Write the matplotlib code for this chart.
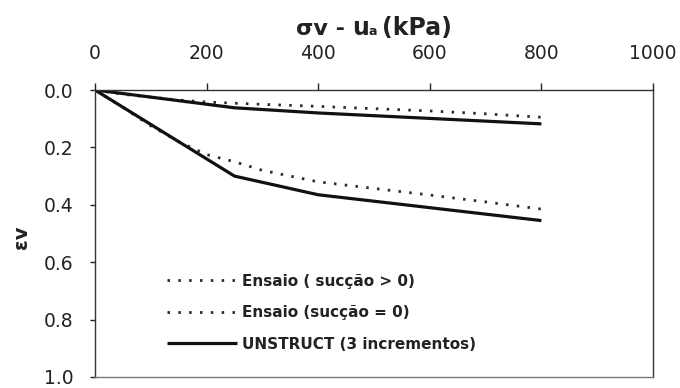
import matplotlib
matplotlib.use("Agg")
import matplotlib.pyplot as plt
from matplotlib.lines import Line2D
from matplotlib.offsetbox import TextArea, HPacker, AnnotationBbox

# Vertical stress (kPa) and volumetric strain
test_pos_x = [0, 50, 100, 150, 200, 250, 300, 400, 500, 600, 700, 800]
test_pos_y = [0, 0.015, 0.025, 0.035, 0.042, 0.046, 0.05, 0.057, 0.065, 0.073, 0.083, 0.095]

test_zero_x = [0, 50, 100, 150, 200, 250, 300, 350, 400, 500, 600, 700, 800]
test_zero_y = [0, 0.06, 0.125, 0.18, 0.225, 0.25, 0.28, 0.30, 0.32, 0.343, 0.366, 0.39, 0.415]

model_x = [0, 250, 400, 800]
model_pos_y = [0, 0.062, 0.08, 0.118]
model_zero_y = [0, 0.30, 0.365, 0.455]

x_ticks = [0, 200, 400, 600, 800, 1000]
y_ticks = [0.0, 0.2, 0.4, 0.6, 0.8, 1.0]

labels = ["Ensaio ( sucção > 0)", "Ensaio (sucção = 0)", "UNSTRUCT (3 incrementos)"]

W, H = 680, 388
fig = plt.figure(figsize=(W / 100, H / 100), dpi=100)
ax = fig.add_axes([95 / W, 1 - 377 / H, 558 / W, 287 / H])

dot = dict(color="#2a2a2a", linewidth=2.0, linestyle=(0, (0.9, 3.0)))
solid = dict(color="#111111", linewidth=2.3, solid_capstyle="butt")

ax.plot(test_pos_x, test_pos_y, **dot)
ax.plot(test_zero_x, test_zero_y, **dot)
ax.plot(model_x, model_pos_y, **solid)
ax.plot(model_x, model_zero_y, **solid)

ax.set_xlim(0, 1000)
ax.set_ylim(1.0, 0.0)
ax.set_xticks(x_ticks)
ax.set_yticks(y_ticks)
ax.set_yticklabels([f"{v:.1f}" for v in y_ticks])
ax.xaxis.tick_top()
ax.tick_params(axis="x", direction="out", length=5, width=1, pad=14.5,
               labelsize=13.5, colors="#222222")
ax.tick_params(axis="y", direction="out", length=3.6, width=1, pad=12,
               labelsize=13.5, colors="#222222")

for side in ("top", "left", "right"):
    ax.spines[side].set_color("#333333")
    ax.spines[side].set_linewidth(1.0)
ax.spines["bottom"].set_color("#777777")
ax.spines["bottom"].set_linewidth(1.0)

# Axis title: sigma_v - u_a (kPa)
parts = [
    TextArea("σv - ", textprops=dict(size=16, weight="bold", color="#222222")),
    TextArea("u", textprops=dict(size=17, weight="bold", color="#222222")),
    TextArea("a ", textprops=dict(size=9, weight="bold", color="#222222")),
    TextArea("(kPa)", textprops=dict(size=17, weight="bold", color="#222222")),
]
title = HPacker(children=parts, align="baseline", pad=0, sep=0)
ab = AnnotationBbox(title, (374, H - 28), xycoords="figure pixels",
                    box_alignment=(0.5, 0.5), frameon=False)
fig.add_artist(ab)

fig.text(21 / W, 1 - 237 / H, "εv", rotation=90, ha="center", va="center",
         fontsize=14, fontweight="bold", color="#222222")

handles = [Line2D([], [], **dot), Line2D([], [], **dot), Line2D([], [], **solid)]
ax.legend(handles, labels, loc="upper left", bbox_to_anchor=(0.129, 0.36),
          frameon=False, borderpad=0, borderaxespad=0, handlelength=4.6,
          handletextpad=0.3, labelspacing=1.08,
          prop=dict(size=11, weight="bold"), labelcolor="#222222")

fig.savefig("out.png", dpi=100)
